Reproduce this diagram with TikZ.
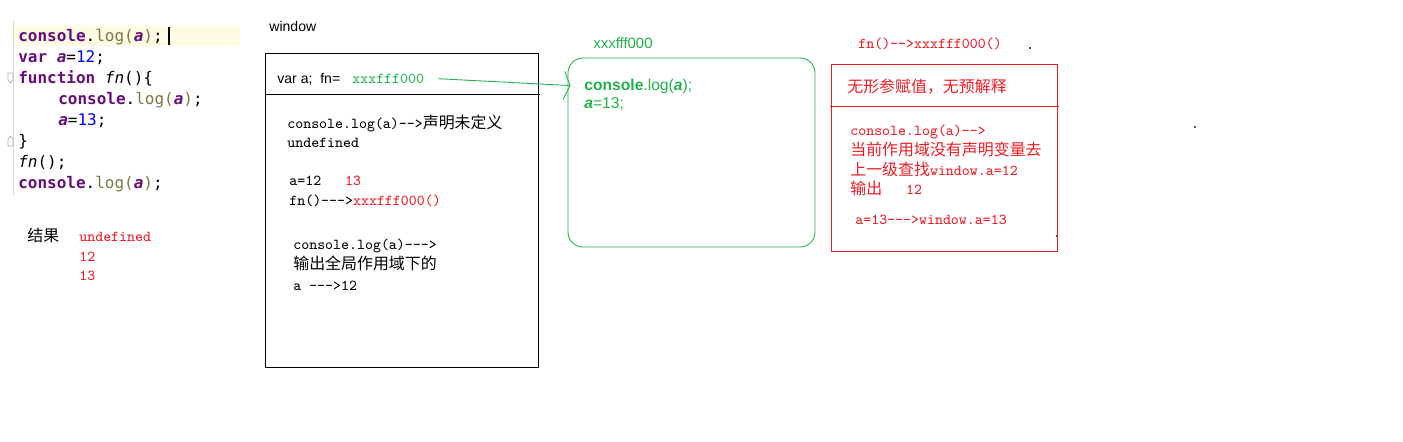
\documentclass[tikz,border=0pt]{standalone}
\usepackage{fontspec}
\usepackage{xcolor}
\usepackage{tikz}
\usetikzlibrary{arrows.meta, fit, positioning}
\setmainfont{Liberation Sans}
\newfontfamily\codefont{DejaVu Sans Mono}
\newfontfamily\cjk{Noto Sans CJK SC}[Scale=1.05]
\definecolor{pred}{HTML}{ED1C24}
\definecolor{pgreen}{HTML}{22B14C}
\definecolor{kwpurple}{HTML}{660E7A}
\definecolor{fnolive}{HTML}{7A7A43}
\definecolor{numblue}{HTML}{0000FF}
\definecolor{curline}{HTML}{FFFAE3}
\newcommand{\kw}[1]{\textcolor{kwpurple}{\bfseries #1}}
\newcommand{\fnc}[1]{\textcolor{fnolive}{#1}}
\newcommand{\va}[1]{\textcolor{kwpurple}{\bfseries\itshape #1}}
\newcommand{\nm}[1]{\textcolor{numblue}{#1}}
\tikzstyle{code} = [anchor=west, inner sep=0pt, font=\codefont\fontsize{9.1pt}{11pt}\selectfont, text height=1.6ex, text depth=.4ex]
\tikzstyle{note} = [anchor=west, inner sep=0pt, font=\ttfamily\fontsize{8.64pt}{10pt}\selectfont, text height=1.6ex, text depth=.4ex]
\tikzstyle{sanstext} = [anchor=west, inner sep=0pt, font=\fontsize{8pt}{9.6pt}\selectfont, text height=1.6ex, text depth=.4ex]
\tikzstyle{box} = [draw, line width=0.5pt, inner sep=0pt]
\tikzstyle{arrow} = [line width=0.5pt, -{Straight Barb[length=3.5pt,width=16pt]}]

\begin{document}
\begin{tikzpicture}[x=0.02cm, y=-0.02cm]
\useasboundingbox (0,0) rectangle (1403,441);

% Code editor
\fill[curline] (14,25) rectangle (240,46);
\draw[gray!30] (13,20) -- (13,195);
\draw[gray!60, fill=white] (8,73) -- (13,73) -- (13,80) -- (10.5,83) -- (8,80) -- cycle;
\draw[gray!60, fill=white] (8,146) -- (13,146) -- (13,139) -- (10.5,136) -- (8,139) -- cycle;
\draw[line width=1.1pt] (169,27) -- (169,45);
\node[code] (c1) at (18,36) {\kw{console}.\fnc{log(}\va{a}\fnc{)};};
\node[code] (c2) at (18,57) {\kw{var} \va{a}=\nm{12};};
\node[code] (c3) at (18,78) {\kw{function} \textit{fn}()\{};
\node[code] (c4) at (58,99) {\kw{console}.\fnc{log(}\va{a}\fnc{)};};
\node[code] (c5) at (58,120) {\va{a}=\nm{13};};
\node[code] (c6) at (18,141) {\}};
\node[code] (c7) at (18,162) {\textit{fn}();};
\node[code] (c8) at (18,183) {\kw{console}.\fnc{log(}\va{a}\fnc{)};};

% Result
\node[note] (res) at (27,236) {\cjk 结果};
\node[note, text=pred] (r1) at (79,236) {undefined};
\node[note, text=pred] (r2) at (79,256) {12};
\node[note, text=pred] (r3) at (79,275) {13};

% Global scope (window)
\node[sanstext] (wlabel) at (269,26) {window};
\node[box, fit={(265,53) (538,367)}] (winbox) {};
\draw[line width=0.5pt] (265,94) -- (540,94);
\node[sanstext] (vardecl) at (277,78) {var a;\ \ fn=};
\node[note, text=pgreen] (fnval) at (352,78) {xxxfff000};
\node[note] (w1) at (287,123) {console.log(a)-->{\cjk 声明未定义}};
\node[note] (w2) at (287,142) {undefined};
\node[note] (w3) at (289,180) {a=12\ \ \ \textcolor{pred}{13}};
\node[note] (w4) at (289,200) {fn()--->\textcolor{pred}{xxxfff000()}};
\node[note] (w5) at (293,244) {console.log(a)--->};
\node[note] (w6) at (293,264) {\cjk 输出全局作用域下的};
\node[note] (w7) at (293,285) {a --->12};

% Function heap (xxxfff000)
\node[sanstext, text=pgreen, font=\fontsize{8.5pt}{10pt}\selectfont] (addr) at (593,43) {xxxfff000};
\node[box, draw=pgreen, rounded corners=0.3cm, fit={(568,58) (815,247)}] (fnbox) {};
\node[sanstext, text=pgreen, font=\fontsize{8.9pt}{10.5pt}\selectfont] (g1) at (584,85) {\textbf{console}.log(\textbf{\textit{a}});};
\node[sanstext, text=pgreen, font=\fontsize{8.9pt}{10.5pt}\selectfont] (g2) at (584,103) {\textbf{\textit{a}}=13;};
\draw[arrow, pgreen, shorten <=8pt] (fnval.east) -- ([xshift=0.06cm, yshift=-0.56cm]fnbox.north west);

% Private scope of fn()
\node[note, text=pred] (call) at (858,43) {fn()-->xxxfff000()};
\node[box, draw=pred, fit={(831,64) (1057,251)}] (fnscope) {};
\draw[pred, line width=0.5pt] (830,106) -- (1059,106);
\node[note, text=pred] (s0) at (847,87) {\cjk 无形参赋值，无预解释};
\node[note, text=pred] (s1) at (850,130) {console.log(a)-->};
\node[note, text=pred] (s2) at (850,150) {\cjk 当前作用域没有声明变量去};
\node[note, text=pred] (s3) at (850,170) {{\cjk 上一级查找}window.a=12};
\node[note, text=pred] (s4) at (850,189) {{\cjk 输出}\ \ \ 12};
\node[note, text=pred] (s5) at (855,219) {a=13--->window.a=13};

% stray dots
\fill[black!70] (1029,47) rectangle +(1.5,1.5);
\fill[brown!70!black] (1194,126) rectangle +(1.5,2);
\fill[black!70] (1056,235) rectangle +(1.5,2);
\end{tikzpicture}
\end{document}
